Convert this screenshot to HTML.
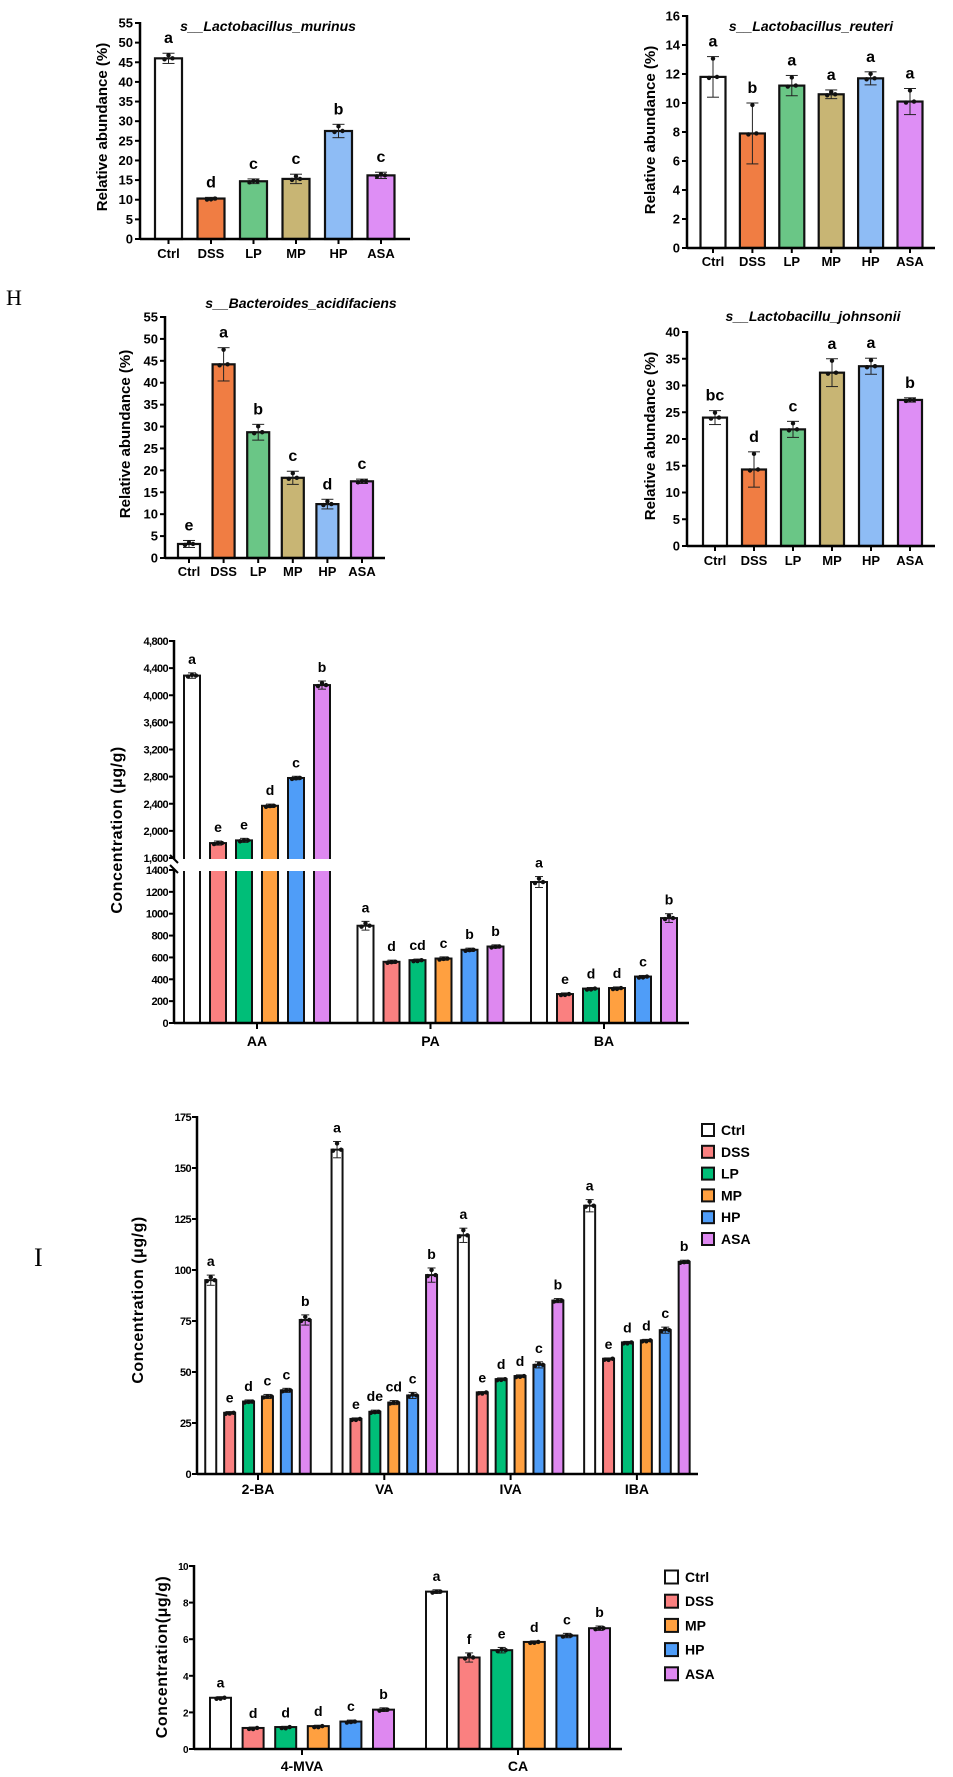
<!DOCTYPE html>
<html><head><meta charset="utf-8"><style>
html,body{margin:0;padding:0;background:#fff;}
svg{display:block;font-family:"Liberation Sans",Arial,sans-serif;}
</style></head><body>
<svg id="fig" width="953" height="1777" viewBox="0 0 953 1777" xmlns="http://www.w3.org/2000/svg">
<text x="6" y="305" font-family="Liberation Serif,serif" font-size="22">H</text>
<text x="34" y="1266" font-family="Liberation Serif,serif" font-size="26">I</text>
</svg>
<script>
// ---------- data ----------
const groups6 = ["Ctrl","DSS","LP","MP","HP","ASA"];
const murinusVals = [46,10.3,14.7,15.3,27.5,16.2];
const murinusErr = [1.3,0.3,0.6,1.2,1.7,0.8];
const murinusLetters = ["a","d","c","c","b","c"];
const murinusTicks = [0,5,10,15,20,25,30,35,40,45,50,55];
const reuteriVals = [11.8,7.9,11.2,10.6,11.7,10.1];
const reuteriErr = [1.4,2.1,0.7,0.3,0.45,0.9];
const reuteriLetters = ["a","b","a","a","a","a"];
const reuteriTicks = [0,2,4,6,8,10,12,14,16];
const bactVals = [3.2,44.2,28.7,18.3,12.3,17.5];
const bactErr = [0.8,3.8,1.8,1.5,1.1,0.5];
const bactLetters = ["e","a","b","c","d","c"];
const bactTicks = [0,5,10,15,20,25,30,35,40,45,50,55];
const johnVals = [24,14.3,21.8,32.4,33.6,27.3];
const johnErr = [1.3,3.3,1.5,2.6,1.5,0.4];
const johnLetters = ["bc","d","c","a","a","b"];
const johnTicks = [0,5,10,15,20,25,30,35,40];
const scfaCats = ["AA","PA","BA"];
const scfaVals = [[4290,1820,1860,2370,2780,4150],[890,560,575,590,670,700],[1290,265,315,320,425,960]];
const scfaErr = [[40,30,30,25,25,60],[40,15,10,15,15,15],[50,10,10,10,10,40]];
const scfaLetters = [["a","e","e","d","c","b"],["a","d","cd","c","b","b"],["a","e","d","d","c","b"]];
const scfaUpperTicks = [1600,2000,2400,2800,3200,3600,4000,4400,4800];
const scfaUpperLabels = ["1,600","2,000","2,400","2,800","3,200","3,600","4,000","4,400","4,800"];
const scfaLowerTicks = [0,200,400,600,800,1000,1200,1400];
const bcfaCats = ["2-BA","VA","IVA","IBA"];
const bcfaVals = [[95,30,35.5,38,41,75.5],[159,27,30.5,35,38.5,97.5],[117,40,46.5,48,53.5,85],[131.5,56.5,64.5,65.5,70.5,104]];
const bcfaErr = [[2.5,0.6,0.8,1,1,2.5],[4,0.5,0.8,1,1.5,3.5],[3.5,0.4,0.6,0.6,1.5,1],[3,0.4,0.5,0.5,1.5,0.8]];
const bcfaLetters = [["a","e","d","c","c","b"],["a","e","de","cd","c","b"],["a","e","d","d","c","b"],["a","e","d","d","c","b"]];
const bcfaTicks = [0,25,50,75,100,125,150,175];
const mcCats = ["4-MVA","CA"];
const mcVals = [[2.8,1.15,1.2,1.25,1.5,2.15],[8.6,5.0,5.4,5.85,6.2,6.6]];
const mcErr = [[0.06,0.05,0.04,0.05,0.08,0.1],[0.1,0.25,0.15,0.06,0.12,0.12]];
const mcLetters = [["a","d","d","d","c","b"],["a","f","e","d","c","b"]];
const mcTicks = [0,2,4,6,8,10];
const legend6 = ["Ctrl","DSS","LP","MP","HP","ASA"];
const legend5 = ["Ctrl","DSS","MP","HP","ASA"];

const colG = ["#ffffff","#f07d43","#6ac686","#c8b574","#8ebcf5","#de8ef5"];
const colI = ["#ffffff","#fa8080","#00be78","#ffa040","#4f9df8","#de88f0"];
const colLeg5 = ["#ffffff","#fa8080","#ffa040","#4f9df8","#de88f0"];

const NS="http://www.w3.org/2000/svg";
const svg=document.getElementById('fig');
function mk(tag,attrs,parent){const e=document.createElementNS(NS,tag);for(const k in attrs)e.setAttribute(k,attrs[k]);(parent||svg).appendChild(e);return e;}
function txt(x,y,s,attrs,parent){const e=mk('text',Object.assign({x:x,y:y},attrs),parent);e.textContent=s;return e;}

function errDots(g,cx,yv,yTop,yBot,w){
  mk('line',{x1:cx,x2:cx,y1:yTop,y2:yBot,stroke:'#222','stroke-width':1},g);
  mk('line',{x1:cx-w,x2:cx+w,y1:yTop,y2:yTop,stroke:'#222','stroke-width':1},g);
  mk('line',{x1:cx-w,x2:cx+w,y1:yBot,y2:yBot,stroke:'#222','stroke-width':1},g);
  const pts=[[cx-4,yv+1],[cx,yTop+2],[cx+4,yv]];
  pts.forEach(p=>{const d=mk('circle',{cx:p[0],cy:p[1],r:2.2,fill:'#111'},g);
    
    });
}

// simple 6-bar chart
function simpleChart(o){
  const g=mk('g',{});
  
  
  const y=v=>o.y0-(v/o.vmax)*(o.y0-o.yTop);
  const cx=i=>o.first+i*o.step;
  o.ticks.forEach(t=>{
    mk('line',{x1:o.ax-5,x2:o.ax,y1:y(t),y2:y(t),stroke:'#000','stroke-width':2},g);
    const l=txt(o.ax-7,y(t)+4.5,String(t),{'font-size':o.tf,'font-weight':'bold','text-anchor':'end'},g);
    
    
  });
  o.vals.forEach((v,i)=>{
    const b=mk('rect',{x:cx(i)-o.bw/2,y:y(v),width:o.bw,height:o.y0-y(v),fill:o.cols[i],stroke:'#111','stroke-width':2.2},g);
    
    
    errDots(g,cx(i),y(v),y(v+o.err[i]),y(v-o.err[i]),6);
    const L=txt(cx(i),y(v+o.err[i])-10,o.letters[i],{'font-size':16,'font-weight':'bold','text-anchor':'middle'},g);
    
    
    mk('line',{x1:cx(i),x2:cx(i),y1:o.y0,y2:o.y0+5,stroke:'#000','stroke-width':2},g);
    const xl=txt(cx(i),o.ly,o.cats[i],{'font-size':o.xf,'font-weight':'bold','text-anchor':'middle'},g);
    
    
  });
  const ya=mk('line',{x1:o.ax,x2:o.ax,y1:o.yTop-1,y2:o.y0+1,stroke:'#000','stroke-width':2.5},g);
  
  
  const xa=mk('line',{x1:o.ax,x2:o.xEnd,y1:o.y0,y2:o.y0,stroke:'#000','stroke-width':2.5},g);
  
  
  const t=txt(o.tx,o.ty,o.title,{'font-size':14,'font-weight':'bold','font-style':'italic','text-anchor':'middle'},g);
  
  
  const yl=txt(0,0,'Relative abundance (%)',{'font-size':15,'font-weight':'bold','text-anchor':'middle',transform:`translate(${o.ylx},${o.yly}) rotate(-90)`},g);
  
  
}

simpleChart({name:'chart-lactobacillus-murinus',vals:murinusVals,err:murinusErr,letters:murinusLetters,ticks:murinusTicks,cats:groups6,cols:colG,
  ax:140,xEnd:410,y0:239,yTop:23,vmax:55,first:168.5,step:42.5,bw:27,tf:13,xf:13,ly:258,tx:268,ty:31,title:'s__Lactobacillus_murinus',ylx:107,yly:127});
simpleChart({name:'chart-lactobacillus-reuteri',vals:reuteriVals,err:reuteriErr,letters:reuteriLetters,ticks:reuteriTicks,cats:groups6,cols:colG,
  ax:687,xEnd:935,y0:248,yTop:16,vmax:16,first:713,step:39.4,bw:25,tf:13,xf:13,ly:266,tx:811,ty:31,title:'s__Lactobacillus_reuteri',ylx:655,yly:130});
simpleChart({name:'chart-bacteroides-acidifaciens',vals:bactVals,err:bactErr,letters:bactLetters,ticks:bactTicks,cats:groups6,cols:colG,
  ax:165,xEnd:385,y0:558,yTop:317,vmax:55,first:189,step:34.6,bw:22,tf:13,xf:13,ly:576,tx:301,ty:308,title:'s__Bacteroides_acidifaciens',ylx:130,yly:434});
simpleChart({name:'chart-lactobacillus-johnsonii',vals:johnVals,err:johnErr,letters:johnLetters,ticks:johnTicks,cats:groups6,cols:colG,
  ax:687,xEnd:935,y0:546,yTop:332,vmax:40,first:715,step:39,bw:24,tf:13,xf:13,ly:565,tx:813,ty:321,title:'s__Lactobacillu_johnsonii',ylx:655,yly:436});

// grouped chart
function groupChart(o){
  const g=mk('g',{});
  
  
  const y=o.yfun;
  const gc=k=>o.g0+k*o.gstep;
  const cx=(k,i)=>gc(k)+(i-2.5)*o.step;
  o.cats.forEach((c,k)=>{
    o.vals[k].forEach((v,i)=>{
      const b=mk('rect',{x:cx(k,i)-o.bw/2,y:y(v),width:o.bw,height:o.y0-y(v),fill:o.cols[i],stroke:'#111','stroke-width':2},g);
      
      
      errDots(g,cx(k,i),y(v),y(v+o.err[k][i]),y(v-o.err[k][i]),4);
      const L=txt(cx(k,i),y(v+o.err[k][i])-9,o.letters[k][i],{'font-size':14,'font-weight':'bold','text-anchor':'middle'},g);
      
      
    });
    mk('line',{x1:gc(k),x2:gc(k),y1:o.y0,y2:o.y0+6,stroke:'#000','stroke-width':2},g);
    const xl=txt(gc(k),o.ly,c,{'font-size':14,'font-weight':'bold','text-anchor':'middle'},g);
    
    
  });
  if(o.after)o.after(g);
  o.ticks.forEach((t,j)=>{
    mk('line',{x1:o.ax-5,x2:o.ax,y1:y(t),y2:y(t),stroke:'#000','stroke-width':2},g);
    const l=txt(o.ax-6,y(t)+4,o.tickLabels?o.tickLabels[j]:String(t),{'font-size':o.tf,'font-weight':'bold','text-anchor':'end','letter-spacing':'-0.6'},g);
    
    
  });
  const xa=mk('line',{x1:o.ax,x2:o.xEnd,y1:o.y0,y2:o.y0,stroke:'#000','stroke-width':2.5},g);
  
  
  const yl=txt(0,0,o.ytitle,{'font-size':16,'font-weight':'bold','text-anchor':'middle','letter-spacing':'0.5',transform:`translate(${o.ylx},${o.yly}) rotate(-90)`},g);
  
  
  return g;
}

// SCFA broken axis
const U0=858,U1=641,L0=1023,L1=870;
function yScfa(v){return v>=1600? U0-(v-1600)/3200*(U0-U1) : L0-v/1400*(L0-L1);}
groupChart({name:'chart-scfa',cats:scfaCats,vals:scfaVals,err:scfaErr,letters:scfaLetters,cols:colI,yfun:yScfa,y0:L0,
  g0:257,gstep:173.5,step:26,bw:16,ax:174,xEnd:689,ly:1046,ytitle:'Concentration (μg/g)',ylx:122,yly:830,tf:11,
  ticks:scfaUpperTicks.concat(scfaLowerTicks),tickLabels:scfaUpperLabels.concat(scfaLowerTicks.map(String)),
  after:function(g){
    const gap=mk('rect',{x:176,y:859,width:156,height:12,fill:'#fff'},g);
    
    
    const a1=mk('line',{x1:174,x2:174,y1:U1-1,y2:U0+1,stroke:'#000','stroke-width':2.5},g);
    
    
    const a2=mk('line',{x1:174,x2:174,y1:L1-1,y2:L0,stroke:'#000','stroke-width':2.5},g);
    
    
    mk('line',{x1:170,x2:178,y1:U0-3,y2:U0+5,stroke:'#000','stroke-width':2},g);
    mk('line',{x1:170,x2:178,y1:L1-5,y2:L1+3,stroke:'#000','stroke-width':2},g);
  }});

// BCFA
const B0=1474,B175=1117;
groupChart({name:'chart-bcfa',cats:bcfaCats,vals:bcfaVals,err:bcfaErr,letters:bcfaLetters,cols:colI,yfun:v=>B0-v/175*(B0-B175),y0:B0,
  g0:258,gstep:126.3,step:18.9,bw:11,ax:197,xEnd:698,ly:1494,ytitle:'Concentration (μg/g)',ylx:143,yly:1300,tf:11,ticks:bcfaTicks,
  after:function(g){const a=mk('line',{x1:197,x2:197,y1:B175-1,y2:B0,stroke:'#000','stroke-width':2.5},g);
    }});

// 4-MVA / CA
const M0=1749,M10=1566;
groupChart({name:'chart-mva-ca',cats:mcCats,vals:mcVals,err:mcErr,letters:mcLetters,cols:colI,yfun:v=>M0-v/10*(M0-M10),y0:M0,
  g0:302,gstep:216,step:32.6,bw:21,ax:194,xEnd:622,ly:1771,ytitle:'Concentration(μg/g)',ylx:167,yly:1657,tf:10,ticks:mcTicks,
  after:function(g){const a=mk('line',{x1:194,x2:194,y1:M10-1,y2:M0,stroke:'#000','stroke-width':2.5},g);
    }});

// legends
function legend(name,items,cols,bx,y0,dy,sz){
  const g=mk('g',{});
  
  
  items.forEach((s,i)=>{
    const yy=y0+i*dy;
    const r=mk('rect',{x:bx,y:yy-sz/2,width:sz,height:sz,fill:cols[i],stroke:'#111','stroke-width':2},g);
    
    
    const t=txt(bx+sz+7,yy+5,s,{'font-size':14,'font-weight':'bold'},g);
    
    
  });
}
legend('legend-bcfa',legend6,colI,702,1130,21.8,12);
legend('legend-mva-ca',legend5,colLeg5,665,1577,24.2,13);
</script>
</body></html>
